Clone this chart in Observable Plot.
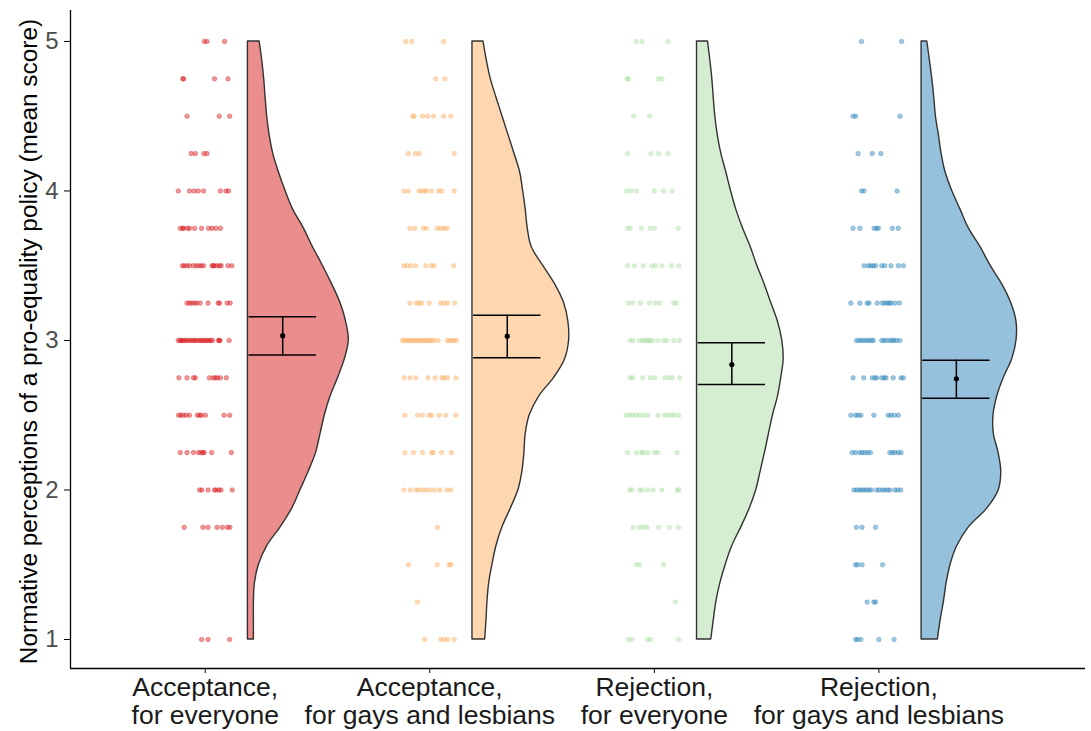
<!DOCTYPE html>
<html>
<head>
<meta charset="utf-8">
<script src="https://cdn.jsdelivr.net/npm/d3@7"></script>
<script src="https://cdn.jsdelivr.net/npm/@observablehq/plot@0.6"></script>
<style>
  html, body { margin: 0; padding: 0; background: #fff; }
  #chart svg { display: block; }
</style>
</head>
<body>
<div id="chart"></div>
<script>
// ---------- data ----------
const categories = [
  "Acceptance,\nfor everyone",
  "Acceptance,\nfor gays and lesbians",
  "Rejection,\nfor everyone",
  "Rejection,\nfor gays and lesbians"
];
const palette = ["#D7191C", "#FDAE61", "#ABDDA4", "#2B83BA"];

const yTicks = [1, 2, 3, 4, 5];
const yTitle = "Normative perceptions of a pro-equality policy (mean score)";

// mean and 95% CI per condition
const means = [3.032, 3.029, 2.839, 2.744];
const ciLow = [2.902, 2.884, 2.706, 2.614];
const ciHigh = [3.159, 3.169, 2.984, 2.868];

// individual responses: [score, horizontal jitter of each response (-1..1)]
const pointsAccEveryone = [
  [5, [-0.03, 0.06, 0.69]],
  [4.75, [-0.80, -0.77, 0.33, 0.81]],
  [4.5, [-0.65, 0.50, 0.87]],
  [4.25, [-0.50, -0.35, -0.05, 0.06]],
  [4, [-0.96, -0.56, -0.40, -0.25, -0.06, 0.54, 0.74, 0.83]],
  [3.75, [-0.89, -0.80, -0.77, -0.63, -0.56, -0.38, -0.13, 0.12, 0.24, 0.38, 0.54]],
  [3.5, [-0.81, -0.75, -0.65, -0.56, -0.42, -0.32, -0.23, -0.14, -0.06, 0.24, 0.29, 0.32, 0.42, 0.51, 0.57, 0.81, 0.95]],
  [3.25, [-0.65, -0.56, -0.48, -0.38, -0.30, -0.18, 0.10, 0.46, 0.51, 0.78, 0.89]],
  [3, [-0.96, -0.90, -0.85, -0.80, -0.74, -0.68, -0.62, -0.55, -0.48, -0.42, -0.36, -0.30, -0.22, -0.16, -0.10, -0.04, 0.02, 0.08, 0.14, 0.20, 0.26, 0.47, 0.50, 0.53, 0.85]],
  [2.75, [-0.94, -0.65, -0.42, -0.35, 0.15, 0.29, 0.36, 0.44, 0.54, 0.75]],
  [2.5, [-0.95, -0.87, -0.78, -0.68, -0.56, -0.28, -0.20, -0.13, 0.01, 0.67, 0.87]],
  [2.25, [-0.89, -0.65, -0.42, -0.24, -0.15, -0.08, -0.04, 0.23, 0.93]],
  [2, [-0.20, -0.12, 0.10, 0.33, 0.39, 0.49, 0.56, 0.96]],
  [1.75, [-0.75, -0.08, 0.10, 0.42, 0.61, 0.79, 0.88]],
  [1, [-0.13, 0.10, 0.87]]
];
const pointsAccGL = [
  [5, [-0.86, -0.65, 0.49]],
  [4.75, [0.21, 0.54]],
  [4.5, [-0.60, -0.56, -0.26, -0.08, 0.13, 0.49, 0.75]],
  [4.25, [-0.77, -0.52, -0.38, 0.87]],
  [4, [-0.92, -0.77, -0.38, -0.29, -0.18, -0.12, 0.06, 0.31, 0.42, 0.87]],
  [3.75, [-0.71, -0.54, -0.23, -0.12, 0.27, 0.39, 0.51, 0.61]],
  [3.5, [-0.92, -0.80, -0.68, -0.50, -0.14, 0.06, 0.15, 0.85]],
  [3.25, [-0.71, -0.48, -0.38, -0.29, -0.02, 0.39, 0.51, 0.63, 0.89]],
  [3, [-0.98, -0.90, -0.83, -0.75, -0.68, -0.60, -0.52, -0.45, -0.38, -0.30, -0.22, -0.15, -0.08, 0.00, 0.08, 0.15, 0.30, 0.62, 0.70, 0.78, 0.87, 0.95]],
  [2.75, [-0.92, -0.71, -0.50, -0.06, 0.19, 0.43, 0.52, 0.63, 0.93]],
  [2.5, [-0.89, -0.44, -0.26, -0.02, 0.07, 0.33, 0.57, 0.93]],
  [2.25, [-0.89, -0.58, -0.26, 0.07, 0.12, 0.42, 0.77]],
  [2, [-0.92, -0.70, -0.50, -0.40, -0.26, -0.14, 0.01, 0.17, 0.36, 0.61, 0.75]],
  [1.75, [0.27]],
  [1.5, [-0.76, 0.27, 0.69, 0.75]],
  [1.25, [-0.44]],
  [1, [-0.18, 0.39, 0.51, 0.63, 0.87]]
];
const pointsRejEveryone = [
  [5, [-0.65, -0.44, 0.48]],
  [4.75, [-0.97, -0.93, 0.15, 0.27]],
  [4.5, [-0.74, -0.17]],
  [4.25, [-0.95, -0.12, 0.15, 0.48]],
  [4, [-0.98, -0.82, -0.64, 0.00, 0.33, 0.63]],
  [3.75, [-0.95, -0.86, -0.46, -0.14, 0.01, 0.85]],
  [3.5, [-0.95, -0.71, -0.40, -0.08, 0.04, 0.27, 0.61, 0.87]],
  [3.25, [-0.92, -0.78, -0.50, -0.17, 0.04, 0.19, 0.69, 0.77]],
  [3, [-0.86, -0.76, -0.53, -0.42, -0.34, -0.26, -0.20, -0.14, -0.06, 0.13, 0.33, 0.45, 0.69, 0.89]],
  [2.75, [-0.86, -0.77, -0.42, -0.14, 0.01, 0.37, 0.51, 0.63, 0.90]],
  [2.5, [-1.00, -0.89, -0.77, -0.65, -0.53, -0.38, -0.23, 0.13, 0.37, 0.48, 0.60, 0.71, 0.87]],
  [2.25, [-0.95, -0.64, -0.46, -0.40, -0.24, 0.01, 0.12, 0.81]],
  [2, [-0.88, -0.80, -0.53, -0.44, -0.24, -0.05, 0.27, 0.81, 0.87]],
  [1.75, [-0.76, -0.53, -0.38, -0.26, 0.15, 0.54, 0.87]],
  [1.5, [-0.64, -0.53, 0.33]],
  [1.25, [0.75]],
  [1, [-0.92, -0.80, -0.24, -0.14, 0.87]]
];
const pointsRejGL = [
  [5, [-0.62, 0.81]],
  [4.5, [-0.92, -0.83, 0.75]],
  [4.25, [-0.74, -0.24, 0.07]],
  [4, [-0.62, -0.53, 0.65]],
  [3.75, [-0.92, -0.68, -0.17, -0.08, -0.02, 0.48, 0.69]],
  [3.5, [-0.53, -0.38, -0.29, -0.20, -0.12, 0.10, 0.21, 0.43, 0.69, 0.87]],
  [3.25, [-1.00, -0.68, -0.42, -0.35, -0.06, 0.12, 0.21, 0.30, 0.37, 0.43, 0.57, 0.73]],
  [3, [-0.80, -0.71, -0.62, -0.54, -0.44, -0.36, -0.26, -0.20, 0.10, 0.18, 0.27, 0.39, 0.47, 0.54, 0.63, 0.75]],
  [2.75, [-0.92, -0.54, -0.24, -0.14, -0.08, 0.10, 0.19, 0.25, 0.51, 0.79, 0.87]],
  [2.5, [-1.00, -0.83, -0.74, -0.64, -0.18, 0.33, 0.43, 0.55, 0.69]],
  [2.25, [-0.95, -0.83, -0.68, -0.60, -0.50, -0.40, -0.30, 0.39, 0.48, 0.57, 0.69, 0.79]],
  [2, [-0.89, -0.80, -0.70, -0.62, -0.53, -0.44, -0.35, -0.26, -0.08, 0.01, 0.13, 0.21, 0.31, 0.39, 0.57, 0.67, 0.78]],
  [1.75, [-0.80, -0.60, -0.12]],
  [1.5, [-0.83, -0.76, -0.60, 0.13]],
  [1.25, [-0.42, -0.18, -0.12]],
  [1, [-0.83, -0.76, -0.64, 0.00, 0.54]]
];

// half-violin density (relative) evaluated on this score grid
const violinGrid = [5, 4.875, 4.75, 4.625, 4.5, 4.375, 4.25, 4.125, 4, 3.875, 3.75, 3.625, 3.5, 3.375, 3.25, 3.125, 3,
  2.875, 2.75, 2.625, 2.5, 2.375, 2.25, 2.125, 2, 1.875, 1.75, 1.625, 1.5, 1.375, 1.25, 1.125, 1];
const densAccEveryone = [0.117, 0.143, 0.163, 0.177, 0.193, 0.217, 0.253, 0.31, 0.377, 0.453, 0.56, 0.65, 0.75, 0.843, 0.927, 0.983, 1.01,
  0.97, 0.903, 0.827, 0.77, 0.727, 0.683, 0.61, 0.527, 0.443, 0.327, 0.193, 0.11, 0.07, 0.06, 0.06, 0.06];
const densAccGL = [0.11, 0.143, 0.183, 0.24, 0.30, 0.36, 0.42, 0.477, 0.507, 0.533, 0.553, 0.593, 0.707, 0.827, 0.917, 0.96, 0.967,
  0.927, 0.817, 0.667, 0.573, 0.533, 0.52, 0.50, 0.46, 0.383, 0.30, 0.24, 0.20, 0.167, 0.15, 0.14, 0.127];
const densRejEveryone = [0.11, 0.133, 0.153, 0.167, 0.183, 0.207, 0.243, 0.293, 0.34, 0.393, 0.46, 0.537, 0.603, 0.677, 0.743, 0.81, 0.853,
  0.867, 0.843, 0.81, 0.76, 0.72, 0.68, 0.637, 0.593, 0.527, 0.443, 0.353, 0.287, 0.233, 0.193, 0.167, 0.143];
const densRejGL = [0.057, 0.083, 0.107, 0.127, 0.143, 0.173, 0.20, 0.24, 0.307, 0.39, 0.473, 0.59, 0.69, 0.807, 0.897, 0.95, 0.95,
  0.907, 0.823, 0.757, 0.72, 0.723, 0.77, 0.797, 0.773, 0.657, 0.473, 0.357, 0.29, 0.25, 0.223, 0.19, 0.163];

// ---------- layout constants (category units) ----------
const JITTER = 0.125;      // half-width of the jitter band
const VIOLIN_START = 0.19; // violin baseline offset from category centre
const VIOLIN_SCALE = 0.445;// density -> category units
const BAR_X = 0.345;       // error bar centre offset
const CAP = 0.15;          // cap half-width

const pointSets = [pointsAccEveryone, pointsAccGL, pointsRejEveryone, pointsRejGL];
const densSets = [densAccEveryone, densAccGL, densRejEveryone, densRejGL];

const pointRows = pointSets.flatMap((set, i) =>
  set.flatMap(([score, js]) => js.map(j => ({g: categories[i], x: i + 1 + j * JITTER, y: score}))));

const violinRows = densSets.flatMap((dens, i) =>
  violinGrid.map((y, k) => ({g: categories[i], y, x1: i + 1 + VIOLIN_START, x2: i + 1 + VIOLIN_START + dens[k] * VIOLIN_SCALE})));

const stats = categories.map((g, i) => ({g, c: i + 1, mean: means[i], lo: ciLow[i], hi: ciHigh[i]}));

const xDomain = [0.4, 4.92];
const yDomain = [0.806, 5.207];
const FONT = "'Liberation Sans', Arial, Helvetica, sans-serif";

const chart = Plot.plot({
  width: 1091,
  height: 731,
  marginLeft: 70,
  marginRight: 6,
  marginTop: 10,
  marginBottom: 63,
  style: {fontFamily: FONT, background: "#fff", overflow: "visible"},
  x: {domain: xDomain},
  y: {domain: yDomain},
  color: {type: "ordinal", domain: categories, range: palette},
  marks: [
    Plot.dot(pointRows, {x: "x", y: "y", r: 2.3, fill: "g", fillOpacity: 0.45, stroke: "g", strokeOpacity: 0.55, strokeWidth: 0.6}),
    Plot.areaX(violinRows, {y: "y", x1: "x1", x2: "x2", z: "g", fill: "g", fillOpacity: 0.5, stroke: "#333", strokeWidth: 1.4, curve: "catmull-rom"}),
    Plot.ruleX(stats, {x: d => d.c + BAR_X, y1: "lo", y2: "hi", stroke: "black", strokeWidth: 1.5}),
    Plot.ruleY(stats, {y: "hi", x1: d => d.c + BAR_X - CAP, x2: d => d.c + BAR_X + CAP, stroke: "black", strokeWidth: 1.5}),
    Plot.ruleY(stats, {y: "lo", x1: d => d.c + BAR_X - CAP, x2: d => d.c + BAR_X + CAP, stroke: "black", strokeWidth: 1.5}),
    Plot.dot(stats, {x: d => d.c + BAR_X, y: "mean", r: 2.6, fill: "black"}),
    Plot.ruleX([xDomain[0]], {stroke: "black", strokeWidth: 1.3}),
    Plot.ruleY([yDomain[0]], {stroke: "black", strokeWidth: 1.3}),
    Plot.axisY({ticks: yTicks, tickFormat: d => String(d), tickSize: 6, tickPadding: 6, fontSize: 24, stroke: "black", fill: "#4d4d4d", label: null}),
    Plot.axisX({ticks: [1, 2, 3, 4], tickFormat: d => categories[d - 1], tickSize: 5, tickPadding: 3,
      fontSize: 26.5, lineHeight: 1.04, stroke: "black", fill: "#1a1a1a", label: null}),
    Plot.text([yTitle], {frameAnchor: "left", rotate: -90, dx: -41, dy: 2, fontSize: 24.4, fill: "black", textAnchor: "middle", lineAnchor: "middle"})
  ]
});
document.getElementById("chart").appendChild(chart);
</script>
</body>
</html>
